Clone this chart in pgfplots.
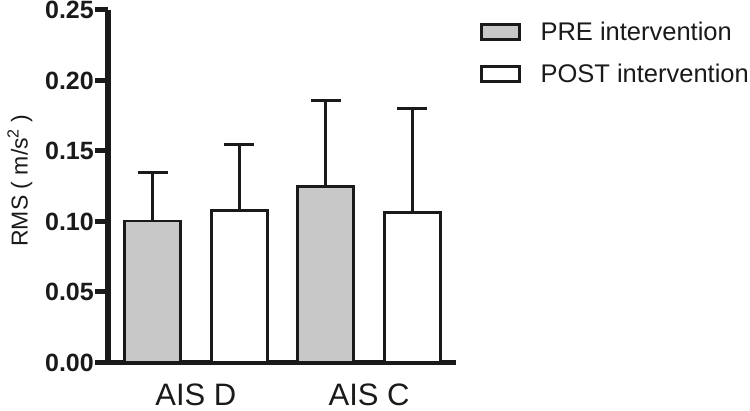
\documentclass[border=0pt]{standalone}
\usepackage{fontspec}
\setmainfont{Liberation Sans}
\usepackage{pgfplots}
\pgfplotsset{compat=1.18}
\definecolor{barfill}{RGB}{200,200,200}
\definecolor{ink}{RGB}{26,26,26}
\begin{document}
\begin{tikzpicture}
\begin{axis}[
  at={(108bp,48.5bp)}, anchor=south west,
  scale only axis, width=348bp, height=352.5bp,
  xmin=-0.514, xmax=3.503, ymin=0, ymax=0.25,
  axis lines*=left,
  axis line style={line width=5bp, draw=ink},
  ytick={0,0.05,0.10,0.15,0.20,0.25},
  yticklabel style={font=\fontsize{25bp}{29bp}\selectfont\bfseries, inner sep=1bp, text=ink,
    /pgf/number format/.cd, fixed, fixed zerofill, precision=2, assume math mode=true},
  tick align=outside, major tick length=13bp,
  y tick style={line width=5bp, draw=ink},
  xtick={0.5,2.5}, xticklabels={AIS D,AIS C},
  x tick style={draw=none},
  xticklabel style={font=\fontsize{31bp}{35bp}\selectfont, anchor=base, yshift=-30bp, inner sep=0pt, text=ink},
  ylabel={RMS ( m/s\textsuperscript{2} )},
  ylabel style={at={(axis description cs:-0.253,0.516)}, anchor=center, font=\fontsize{23bp}{27bp}\selectfont, text=ink},
  legend cell align=left,
  legend style={at={(axis description cs:1.069,0.9668)}, anchor=north west, draw=none, fill=none,
    inner sep=0pt, outer sep=0pt, row sep=22.4bp, nodes={inner sep=0pt}, font=\fontsize{25.5bp}{29bp}\selectfont, text=ink},
]
\addplot[ybar, bar width=56bp, bar shift=0pt, fill=barfill, draw=ink, line width=2.8bp,
  legend image code/.code={\draw[fill=barfill, draw=ink, line width=3bp] (0bp,-7.5bp) rectangle (38bp,7.5bp); \path[draw=none,fill=none] (0bp,0bp) -- (59bp,0bp);},
  error bars/.cd, y dir=plus, y explicit,
  error bar style={line width=2.8bp, draw=ink},
  error mark options={rotate=90, mark size=15bp, line width=2.8bp, draw=ink}]
  coordinates {(0,0.1004) +- (0,0.0343) (2,0.125) +- (0,0.0606)};
\addlegendentry{PRE intervention}
\addplot[ybar, bar width=56bp, bar shift=0pt, fill=white, draw=ink, line width=2.8bp,
  legend image code/.code={\draw[fill=white, draw=ink, line width=3bp] (0bp,-7.5bp) rectangle (38bp,7.5bp); \path[draw=none,fill=none] (0bp,0bp) -- (59bp,0bp);},
  error bars/.cd, y dir=plus, y explicit,
  error bar style={line width=2.8bp, draw=ink},
  error mark options={rotate=90, mark size=15bp, line width=2.8bp, draw=ink}]
  coordinates {(1,0.108) +- (0,0.0466) (3,0.1063) +- (0,0.0737)};
\addlegendentry{POST intervention}
\end{axis}
\pgfresetboundingbox
\useasboundingbox (0,0) rectangle (750bp,411bp);
\end{tikzpicture}
\end{document}
